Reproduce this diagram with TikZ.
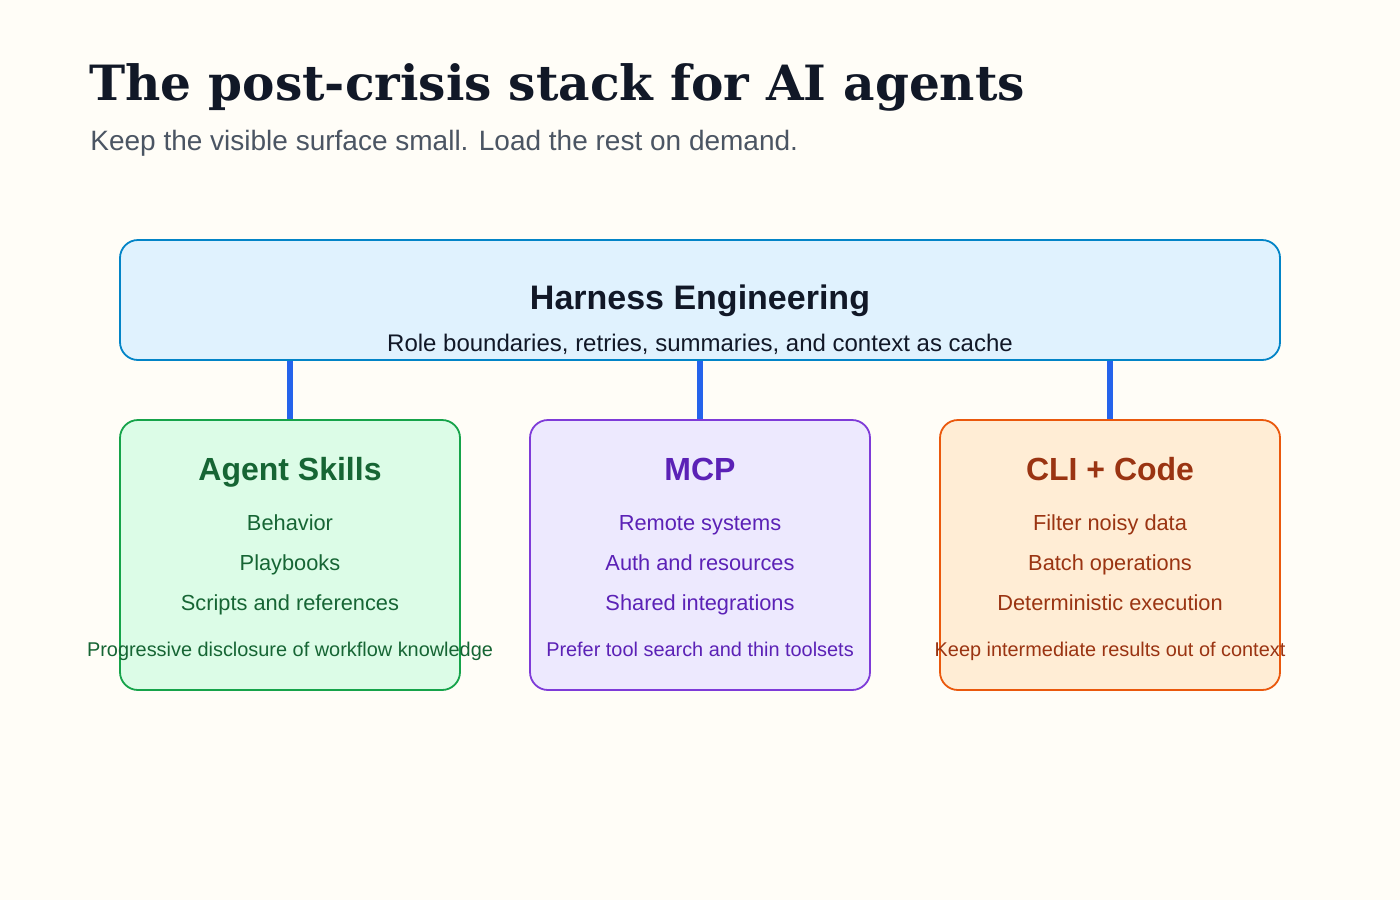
\documentclass[tikz,border=0pt]{standalone}
\usepackage{fontspec}
\setmainfont{Liberation Sans}
\newfontfamily\titlefont{DejaVu Serif}
\definecolor{bg}{HTML}{FFFDF7}
\definecolor{ink}{HTML}{111827}
\definecolor{sub}{HTML}{4B5563}
\definecolor{hfill}{HTML}{E0F2FE}\definecolor{hdraw}{HTML}{0284C7}
\definecolor{gfill}{HTML}{DCFCE7}\definecolor{gdraw}{HTML}{16A34A}\definecolor{gtext}{HTML}{166534}
\definecolor{pfill}{HTML}{EDE9FE}\definecolor{pdraw}{HTML}{7E3BD8}\definecolor{ptext}{HTML}{5B21B6}
\definecolor{ofill}{HTML}{FFEDD5}\definecolor{odraw}{HTML}{EA580C}\definecolor{otext}{HTML}{9A3412}
\definecolor{conn}{HTML}{2563EB}
\begin{document}
\begin{tikzpicture}[x=0.5pt,y=-0.5pt,
  every node/.style={inner sep=0pt},
  tx/.style={text height=0.72em,text depth=0.2em},
  box/.style={rounded corners=9pt,line width=0.9pt,minimum width=170pt,minimum height=135pt,inner sep=0pt},
  ttl/.style={tx,font=\fontsize{16}{18}\selectfont\bfseries},
  item/.style={tx,font=\fontsize{10.9}{12}\selectfont},
  foot/.style={tx,font=\fontsize{9.95}{11}\selectfont},
  link/.style={conn,line width=3pt}]
\fill[bg] (0,0) rectangle (1400,900);
\node[anchor=base west,text=ink,font=\titlefont\fontsize{24.3}{28}\selectfont\bfseries] (title) at (89,100) {The post-crisis stack for AI agents};
\node[anchor=base west,text=sub,font=\fontsize{14}{16}\selectfont] (subt) at (90,150) {Keep the visible surface small. Load the rest on demand.};
\node[box,fill=hfill,draw=hdraw,minimum width=580pt,minimum height=60pt] (h) at (700,300) {};
\node[tx,text=ink,font=\fontsize{17}{20}\selectfont\bfseries] (ht) at (700,304) {Harness Engineering};
\node[tx,text=ink,font=\fontsize{12}{14}\selectfont] (hs) at (700,346) {Role boundaries, retries, summaries, and context as cache};
\foreach \n/\x/\f/\d/\t/\T/\a/\b/\c/\F in {
 g/290/gfill/gdraw/gtext/Agent Skills/Behavior/Playbooks/Scripts and references/Progressive disclosure of workflow knowledge,
 p/700/pfill/pdraw/ptext/MCP/Remote systems/Auth and resources/Shared integrations/Prefer tool search and thin toolsets,
 o/1110/ofill/odraw/otext/CLI + Code/Filter noisy data/Batch operations/Deterministic execution/Keep intermediate results out of context}{
 \node[box,fill=\f,draw=\d] (\n) at (\x,555) {};
 \node[ttl,text=\t] (\n t) at (\x,475) {\T};
 \node[item,text=\t] (\n 1) at (\x,525) {\a};
 \node[item,text=\t] (\n 2) at (\x,565) {\b};
 \node[item,text=\t] (\n 3) at (\x,605) {\c};
 \node[foot,text=\t] (\n f) at (\x,651) {\F};
 \draw[link] (h.south -| \n.north) -- (\n.north);
}
\end{tikzpicture}
\end{document}
